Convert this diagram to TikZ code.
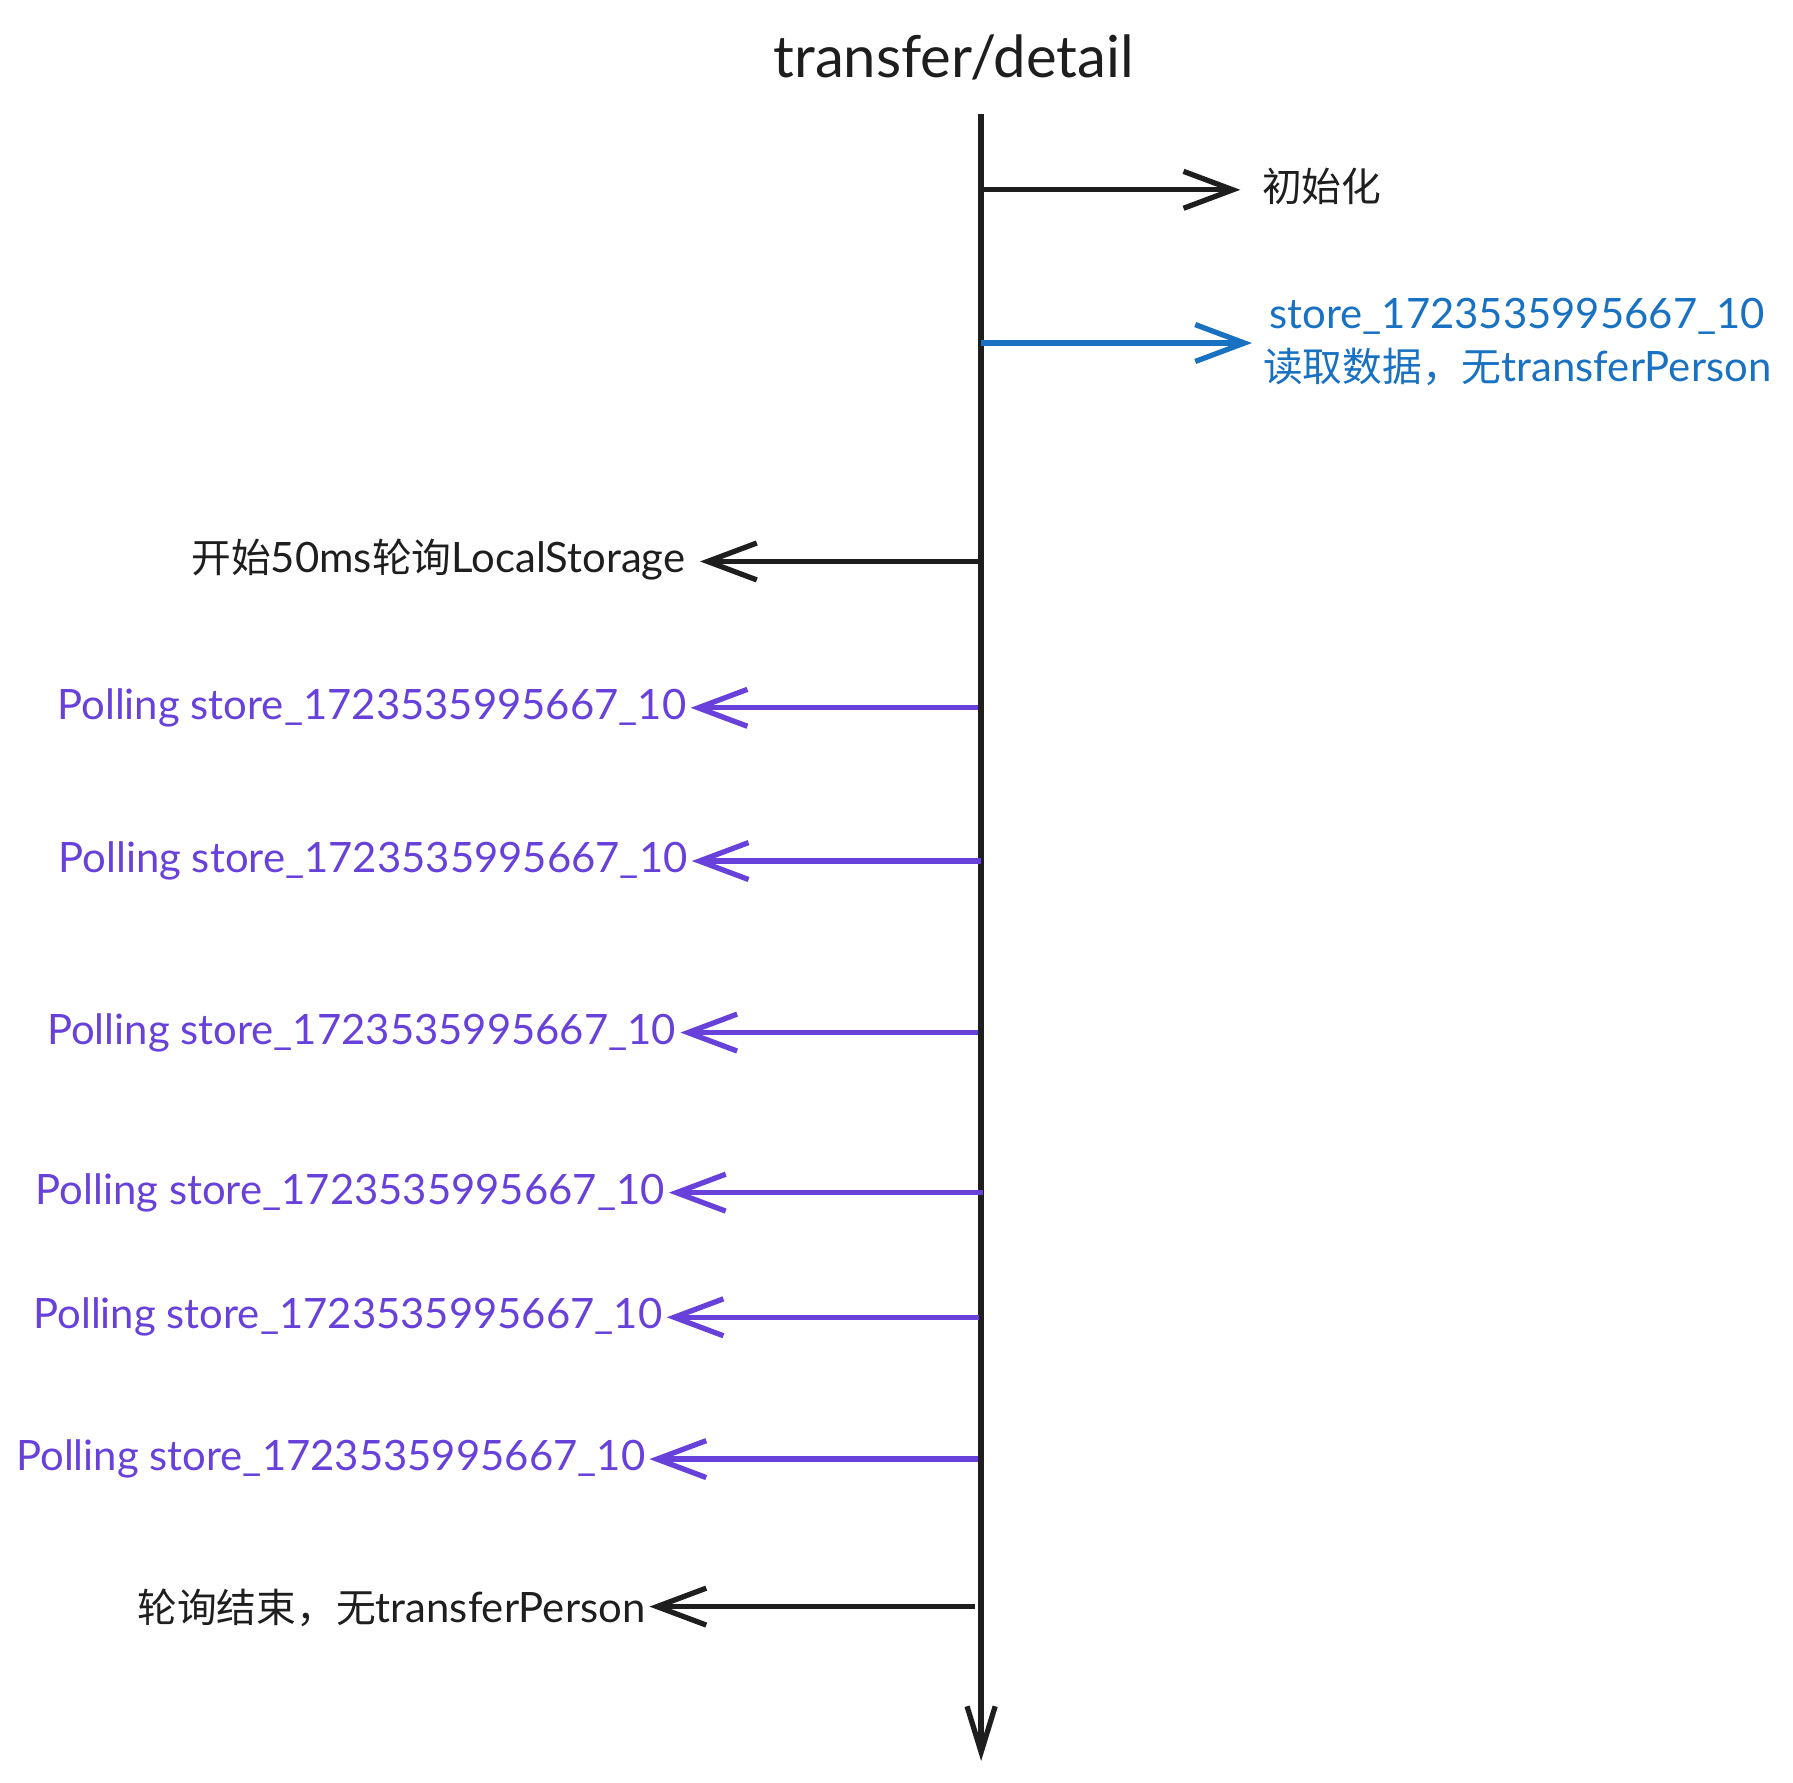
\documentclass[tikz,border=0pt]{standalone}
\usepackage{fontspec}
\setmainfont{Lato}
\newfontfamily\cjk[Scale=0.95]{Noto Sans CJK SC}
\usetikzlibrary{arrows.meta}
\definecolor{ink}{HTML}{1E1E1E}
\definecolor{storeblue}{HTML}{1971C2}
\definecolor{pollviolet}{HTML}{6741D9}
\tikzset{note/.style={inner sep=1pt,font=\fontsize{11.9}{15}\selectfont}}
\tikzset{msg/.style={draw=ink,line width=1.5pt,
                     -{Straight Barb[length=14pt,width=10.5pt,line width=1.5pt]}}}
\tikzset{readmsg/.style={msg,draw=storeblue}}
\tikzset{pollmsg/.style={msg,draw=pollviolet}}

\begin{document}
\begin{tikzpicture}[x=0.011435cm,y=-0.011435cm]
    \useasboundingbox (0,0) rectangle (1568,1559);
    % lifeline
    \node[font=\fontsize{16.5}{20}\selectfont,text=ink] (page) at (834,50) {transfer/detail};
    \coordinate (top) at (858,100);
    \coordinate (bottom) at (858,1540);
    \draw[msg,-{Straight Barb[length=13pt,width=8pt,line width=1.5pt]}] (top) -- (bottom);
    % init
    \coordinate (a1) at (858,166);
    \node[note,anchor=west,text=ink] (init) at (1100,163) {\cjk 初始化};
    \draw[msg,shorten >=5pt] (a1) -- (init.west |- a1);
    % read store
    \coordinate (a2) at (858,300);
    \node[note,anchor=west,align=center,text=storeblue] (read) at (1101,299)
        {store\_1723535995667\_10\\{\cjk 读取数据，无}transferPerson};
    \draw[readmsg,shorten >=2pt] (a2) -- (read.west |- a2);
    % start polling
    \coordinate (a3) at (855,491);
    \node[note,anchor=east,text=ink] (start) at (603,489) {{\cjk 开始}50ms{\cjk 轮询}LocalStorage};
    \draw[msg,shorten >=3pt] (a3) -- (start.east |- a3);
    % polling
    \foreach \y/\s/\t [count=\i] in {619/855/604,753/858/605,903/855/595,
                                     1043/860/585,1152/856/583,1276/855/568}{%
          \coordinate (p\i) at (\s,\y);
          \node[note,anchor=east,text=pollviolet] (poll\i) at (\t,\y)
              {Polling store\_1723535995667\_10};
          \draw[pollmsg] (p\i) -- (poll\i.east |- p\i);
        }
    % end
    \coordinate (a4) at (853,1405);
    \node[note,anchor=east,text=ink] (done) at (568,1406) {{\cjk 轮询结束，无}transferPerson};
    \draw[msg] (a4) -- (done.east |- a4);
\end{tikzpicture}
\end{document}
